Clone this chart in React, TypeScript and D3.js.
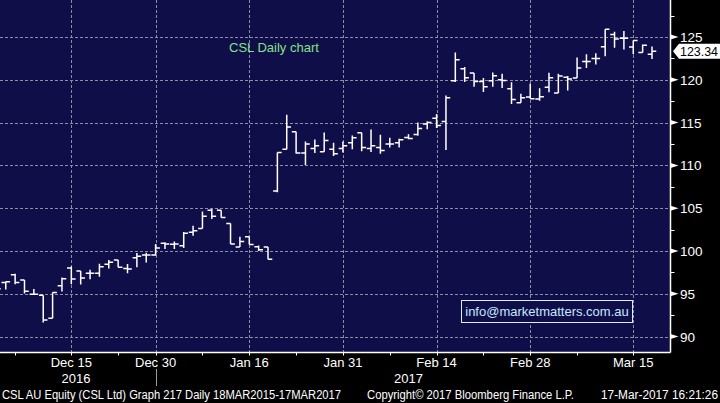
import React from "react";
import * as d3 from "d3";

const dates = [
  "2016-12-05","2016-12-06","2016-12-07","2016-12-08","2016-12-09","2016-12-12","2016-12-13","2016-12-14","2016-12-15","2016-12-16",
  "2016-12-19","2016-12-20","2016-12-21","2016-12-22","2016-12-23","2016-12-28","2016-12-29","2016-12-30",
  "2017-01-03","2017-01-04","2017-01-05","2017-01-06","2017-01-09","2017-01-10","2017-01-11","2017-01-12","2017-01-13",
  "2017-01-16","2017-01-17","2017-01-18","2017-01-19","2017-01-20","2017-01-23","2017-01-24","2017-01-25","2017-01-27",
  "2017-01-30","2017-01-31",
  "2017-02-01","2017-02-02","2017-02-03","2017-02-06","2017-02-07","2017-02-08","2017-02-09","2017-02-10","2017-02-13",
  "2017-02-14","2017-02-15","2017-02-16","2017-02-17","2017-02-20","2017-02-21","2017-02-22","2017-02-23","2017-02-24",
  "2017-02-27","2017-02-28",
  "2017-03-01","2017-03-02","2017-03-03","2017-03-06","2017-03-07","2017-03-08","2017-03-09","2017-03-10","2017-03-13",
  "2017-03-14","2017-03-15","2017-03-16","2017-03-17",
];

const opens = [95.9, 96.33, 97.23, 96.6, 94.96, 94.84, 92.15, 95.94, 98.0, 97.66, 97.4, 97.4, 98.44, 98.95, 97.97, 99.2, 99.52, 99.52,
  100.9, 100.8, 100.6, 102.18, 102.62, 104.76, 104.76, 103.2, 100.48, 101.67, 100.5, 100.48, 107.0, 111.88, 113.92, 111.46, 111.96, 111.6,
  111.88, 111.96, 112.65, 113.8, 111.96, 112.08, 112.5, 112.65, 113.26, 113.6, 114.84, 115.5, 115.12, 119.88, 121.28, 120.8, 119.8, 119.9,
  120.0, 118.95, 117.33, 117.98, 117.76, 119.13, 118.46, 120.3, 120.2, 122.13, 122.48, 123.86, 125.3, 124.84, 123.82, 123.2, 122.99];

const highs = [96.2, 96.45, 97.35, 96.6, 95.55, 94.84, 95.16, 96.9, 98.2, 97.66, 97.8, 98.5, 98.95, 98.95, 98.48, 99.76, 99.8, 100.83,
  101.03, 101.1, 102.22, 102.94, 104.6, 104.92, 104.76, 103.2, 101.67, 101.67, 100.63, 100.48, 111.5, 115.92, 113.92, 112.8, 113.04, 113.85,
  112.65, 112.8, 113.5, 113.8, 114.2, 113.58, 113.23, 113.1, 113.64, 115.0, 115.16, 116.0, 118.18, 123.18, 121.5, 120.8, 120.2, 120.85,
  120.7, 119.7, 118.37, 119.57, 119.0, 120.83, 120.7, 120.43, 122.6, 122.99, 123.1, 125.9, 125.6, 125.7, 124.6, 124.13, 123.9];

const lows = [95.4, 95.5, 96.13, 95.04, 94.96, 91.64, 92.15, 95.27, 96.13, 96.1, 96.7, 97.0, 97.97, 98.1, 97.4, 98.1, 98.65, 99.44,
  100.24, 100.24, 100.36, 101.79, 102.62, 103.73, 103.9, 100.83, 100.48, 100.75, 100.0, 99.05, 106.85, 111.88, 111.38, 110.04, 111.46, 111.6,
  111.1, 111.5, 111.88, 111.65, 111.58, 111.35, 112.08, 112.1, 113.06, 113.45, 114.22, 114.38, 111.8, 119.73, 119.73, 119.2, 118.57, 119.2,
  119.03, 117.17, 117.33, 117.8, 117.56, 118.54, 118.46, 118.74, 120.2, 121.38, 121.8, 122.76, 123.74, 123.54, 122.99, 123.2, 122.44];

const closes = [95.6, 96.4, 96.33, 95.3, 94.96, 91.95, 95.16, 96.76, 96.72, 96.84, 97.4, 98.16, 98.7, 98.1, 97.9, 99.4, 99.52, 100.36,
  100.83, 100.83, 102.06, 102.38, 104.05, 104.05, 103.9, 100.83, 101.1, 100.75, 100.16, 99.05, 111.5, 114.5, 111.46, 112.5, 112.3, 112.92,
  111.35, 112.3, 113.23, 112.08, 112.3, 111.73, 112.5, 113.0, 113.14, 114.3, 115.0, 114.65, 117.9, 122.33, 120.23, 119.8, 119.2, 120.47,
  119.92, 117.7, 117.9, 117.8, 118.03, 120.24, 120.43, 120.08, 121.38, 122.13, 122.48, 125.9, 124.76, 124.84, 124.6, 124.05, 123.34];

const labelDates = ["2016-12-15", "2016-12-30", "2017-01-16", "2017-01-31", "2017-02-14", "2017-02-28", "2017-03-15"];
const minorTickDates = ["2016-12-07", "2016-12-22", "2017-01-09", "2017-01-23", "2017-02-07", "2017-02-21", "2017-03-07"];
const yTicks = [90, 95, 100, 105, 110, 115, 120, 125];
const yMinorTicks = [92.5, 97.5, 102.5, 107.5, 112.5, 117.5, 122.5, 127.5];

const title = "CSL Daily chart";
const email = "info@marketmatters.com.au";
const footerLeft = "CSL AU Equity (CSL Ltd) Graph 217  Daily 18MAR2015-17MAR2017";
const footerMid = "Copyright\u00A9 2017 Bloomberg Finance L.P.";
const footerRight = "17-Mar-2017 16:21:26";

const W = 720;
const H = 403;
const PLOT_R = 670.5;
const PLOT_B = 352.5;
const BG = "#100e48";
const GRID = "#8e8ea2";
const FONT = "'Liberation Sans', Arial, sans-serif";

export default function App() {
  const parse = d3.timeParse("%Y-%m-%d");
  const fmt = d3.timeFormat("%b %-d");
  const yearFmt = d3.timeFormat("%Y");
  const parsed = dates.map((d) => parse(d) as Date);

  const x = d3.scaleLinear().domain([0, dates.length - 1]).range([-3.6, 652.0]);
  const y = d3.scaleLinear().domain([90, 125]).range([336.6, 37]);

  const idx = (d: string) => dates.indexOf(d);
  const T = 4.3;

  const bars = dates.map((d, i) => {
    const xi = x(i);
    return `M${xi},${y(highs[i])}V${y(lows[i])}M${xi - T},${y(opens[i])}H${xi}M${xi},${y(closes[i])}H${xi + T}`;
  });

  const years = d3.groups(parsed.map((p, i) => ({ year: yearFmt(p), i })), (d) => d.year).map(([year, arr]) => {
    const first = arr[0].i;
    const last = arr[arr.length - 1].i;
    return { year, cx: (x(first) + x(last)) / 2, last };
  });

  const lastClose = closes[closes.length - 1];
  const ly = y(lastClose);

  return (
    <svg width={W} height={H} style={{ position: "fixed", left: 0, top: 0, background: "#000" }}>
      <rect x={0} y={0} width={W} height={H} fill="#000" />
      <defs>
        <clipPath id="plotclip">
          <rect x={0} y={0} width={PLOT_R} height={PLOT_B} />
        </clipPath>
      </defs>
      <rect x={0} y={0} width={PLOT_R} height={PLOT_B} fill={BG} />

      {/* grid */}
      {yTicks.map((t) => (
        <line key={"gy" + t} x1={0} x2={PLOT_R} y1={Math.round(y(t)) + 0.5} y2={Math.round(y(t)) + 0.5}
          stroke={GRID} strokeWidth={1} strokeDasharray="3,2" />
      ))}
      {labelDates.map((d) => {
        const xx = Math.round(x(idx(d))) + 0.5;
        return <line key={"gx" + d} x1={xx} x2={xx} y1={0} y2={PLOT_B} stroke={GRID} strokeWidth={1} strokeDasharray="3,2" />;
      })}

      {/* bars */}
      <g clipPath="url(#plotclip)">
        {bars.map((p, i) => (
          <path key={i} d={p} stroke="#fff" strokeWidth={1.5} fill="none" />
        ))}
      </g>

      {/* title */}
      <text x={229} y={52} fill="#86e086" fontFamily={FONT} fontSize={13}>{title}</text>

      {/* email box */}
      <rect x={461.5} y={300.5} width={171} height={22} fill={BG} stroke="#d8eeff" strokeWidth={1} />
      <text x={547} y={316} fill="#c6e8ff" fontFamily={FONT} fontSize={13} textAnchor="middle">{email}</text>

      {/* axes lines */}
      <line x1={PLOT_R} x2={PLOT_R} y1={0} y2={PLOT_B} stroke="#fff" strokeWidth={1.5} />
      <line x1={0} x2={PLOT_R} y1={PLOT_B} y2={PLOT_B} stroke="#fff" strokeWidth={1.5} />

      {/* right axis ticks */}
      {yTicks.map((t) => {
        const yy = y(t);
        return (
          <g key={"yt" + t}>
            <path d={`M${PLOT_R},${yy - 2.5}L${PLOT_R + 8},${yy}L${PLOT_R},${yy + 2.5}Z`} fill="#fff" />
            <text x={680} y={yy + 5} fill="#fff" fontFamily={FONT} fontSize={13.5}>{t}</text>
          </g>
        );
      })}
      {yMinorTicks.map((t) => (
        <line key={"ym" + t} x1={PLOT_R} x2={PLOT_R + 4} y1={Math.round(y(t)) + 0.5} y2={Math.round(y(t)) + 0.5} stroke="#fff" strokeWidth={1} />
      ))}

      {/* last price label */}
      <path d={`M${PLOT_R + 2.5},${ly}L${679},${ly - 7.5}H${720}V${ly + 7.5}H${679}Z`} fill="#fff" />
      <text x={680} y={ly + 5} fill="#000" fontFamily={FONT} fontSize={13.5} textLength={38} lengthAdjust="spacingAndGlyphs">
        {lastClose.toFixed(2)}
      </text>

      {/* bottom ticks */}
      {labelDates.concat(minorTickDates).map((d) => {
        const xx = Math.round(x(idx(d))) + 0.5;
        return <line key={"bt" + d} x1={xx} x2={xx} y1={PLOT_B} y2={PLOT_B + 3} stroke="#fff" strokeWidth={1} />;
      })}
      {labelDates.map((d) => (
        <text key={"bl" + d} x={x(idx(d))} y={367} fill="#fff" fontFamily={FONT} fontSize={13} textAnchor="middle">
          {fmt(parsed[idx(d)])}
        </text>
      ))}
      {years.map((yy) => (
        <text key={yy.year} x={yy.cx} y={383} fill="#fff" fontFamily={FONT} fontSize={13} textAnchor="middle">{yy.year}</text>
      ))}
      {years.slice(0, -1).map((yy) => {
        const xx = Math.round(x(yy.last)) + 0.5;
        return <line key={"ys" + yy.year} x1={xx} x2={xx} y1={369} y2={386} stroke="#9a9a9a" strokeWidth={1} />;
      })}

      {/* footer */}
      <text x={2} y={399} fill="#fff" fontFamily={FONT} fontSize={12} textLength={339} lengthAdjust="spacingAndGlyphs">{footerLeft}</text>
      <text x={367} y={399} fill="#fff" fontFamily={FONT} fontSize={12} textLength={207} lengthAdjust="spacingAndGlyphs">{footerMid}</text>
      <text x={601} y={399} fill="#fff" fontFamily={FONT} fontSize={12} textLength={117} lengthAdjust="spacingAndGlyphs">{footerRight}</text>
    </svg>
  );
}
